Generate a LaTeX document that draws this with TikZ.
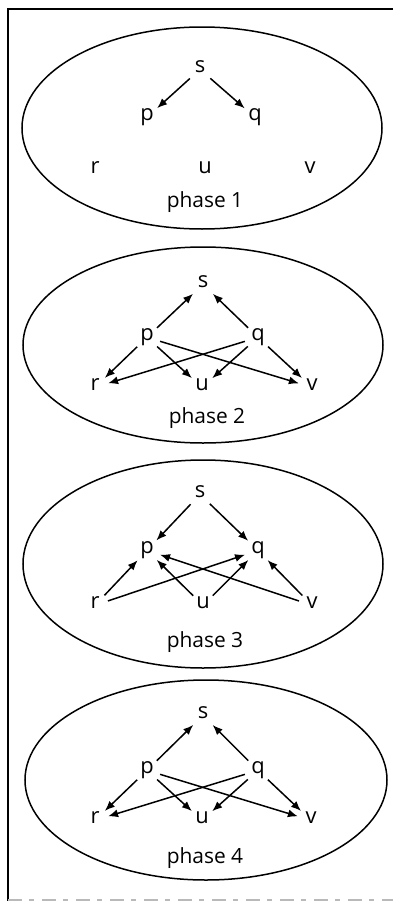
\documentclass[tikz,border=0pt]{standalone}
\usepackage{fontspec}
\setmainfont{Open Sans}
\usetikzlibrary{arrows.meta}
\begin{document}
\begin{tikzpicture}[x=1bp,y=-1bp,
  vtx/.style={circle, inner sep=0pt, minimum size=27bp, anchor=base,
    text height=1ex, text depth=0pt, font=\fontsize{22}{22}\selectfont},
  caption/.style={anchor=base, inner sep=0pt, font=\fontsize{21}{21}\selectfont},
  arc/.style={-{Latex[length=10bp,width=8bp]}, line width=1.5bp},
  phaseellipse/.style={line width=1.5bp},
  frameline/.style={line width=2.6bp},
]
\useasboundingbox (0,0) rectangle (393,901);

% frame
\draw[frameline] (393,9) -- (8,9) -- (8,901);
\draw[gray!55, line width=1.3bp, dash pattern=on 14bp off 7bp on 5bp off 8bp] (8,900) -- (393,900);

% ---------- phase 1 ----------
\draw[phaseellipse] (202,128) ellipse [x radius=180, y radius=101];
\node[vtx] (s1) at (200,72) {s};
\node[vtx] (p1) at (147,120) {p};
\node[vtx] (q1) at (255,120) {q};
\node[vtx] (r1) at (95,173) {r};
\node[vtx] (u1) at (205,173) {u};
\node[vtx] (v1) at (310,173) {v};
\node[caption] (c1) at (205,207) {phase 1};
\draw[arc] (s1) -- (p1);
\draw[arc] (s1) -- (q1);

% ---------- phase 2 ----------
\draw[phaseellipse] (203,345) ellipse [x radius=180, y radius=98];
\node[vtx] (s2) at (203,287) {s};
\node[vtx] (p2) at (147,340) {p};
\node[vtx] (q2) at (258,340) {q};
\node[vtx] (r2) at (95,390) {r};
\node[vtx] (u2) at (202,390) {u};
\node[vtx] (v2) at (312,390) {v};
\node[caption] (c2) at (207,423) {phase 2};
\foreach \a/\b in {p2/s2, q2/s2, p2/r2, p2/u2, p2/v2, q2/r2, q2/u2, q2/v2}
  \draw[arc] (\a) -- (\b);

% ---------- phase 3 ----------
\draw[phaseellipse] (203,564) ellipse [x radius=180, y radius=104];
\node[vtx] (s3) at (200,497) {s};
\node[vtx] (p3) at (147,553) {p};
\node[vtx] (q3) at (258,553) {q};
\node[vtx] (r3) at (95,608) {r};
\node[vtx] (u3) at (203,608) {u};
\node[vtx] (v3) at (312,608) {v};
\node[caption] (c3) at (205,647) {phase 3};
\foreach \a/\b in {s3/p3, s3/q3, r3/p3, r3/q3, u3/p3, u3/q3, v3/p3, v3/q3}
  \draw[arc] (\a) -- (\b);

% ---------- phase 4 ----------
\draw[phaseellipse] (206,780) ellipse [x radius=181, y radius=100];
\node[vtx] (s4) at (203,718) {s};
\node[vtx] (p4) at (147,773) {p};
\node[vtx] (q4) at (258,773) {q};
\node[vtx] (r4) at (95,823) {r};
\node[vtx] (u4) at (202,823) {u};
\node[vtx] (v4) at (311,823) {v};
\node[caption] (c4) at (205,863) {phase 4};
\foreach \a/\b in {p4/s4, q4/s4, p4/r4, p4/u4, p4/v4, q4/r4, q4/u4, q4/v4}
  \draw[arc] (\a) -- (\b);
\end{tikzpicture}
\end{document}
